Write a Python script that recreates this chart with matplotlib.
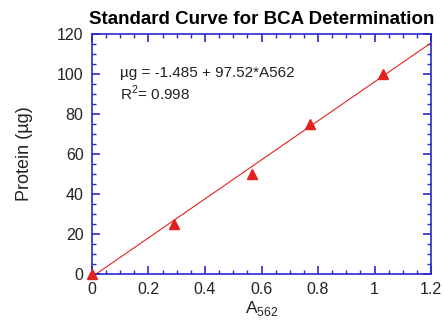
import numpy as np
import matplotlib
matplotlib.use("Agg")
import matplotlib.pyplot as plt
from matplotlib.ticker import MultipleLocator

plt.rcParams['font.family'] = ['Liberation Sans', 'DejaVu Sans']
plt.rcParams['mathtext.fontset'] = 'custom'
plt.rcParams['mathtext.rm'] = 'Liberation Sans'

# standard curve data
absorbance = [0.0, 0.29, 0.565, 0.77, 1.03]
protein = [0, 25, 50, 75, 100]
intercept = -1.485
slope = 97.52
r2 = 0.998
xticks = [0, 0.2, 0.4, 0.6, 0.8, 1.0, 1.2]
xticklabels = ['0', '0.2', '0.4', '0.6', '0.8', '1', '1.2']
yticks = [0, 20, 40, 60, 80, 100, 120]

blue = '#2b2bcc'
red = '#e3221f'

fig = plt.figure(figsize=(4.44, 3.2), dpi=100)
ax = fig.add_axes([0.207, 0.144, 0.764, 0.75])

xfit = np.array([0.0, 1.2])
ax.plot(xfit, intercept + slope * xfit, color=red, lw=0.8, zorder=2)
ax.plot(absorbance, protein, '^', color=red, ms=7, mec=red, zorder=3, clip_on=False)

ax.set_xlim(0, 1.2)
ax.set_ylim(0, 120)
ax.set_xticks(xticks)
ax.set_xticklabels(xticklabels)
ax.set_yticks(yticks)
ax.xaxis.set_minor_locator(MultipleLocator(0.05))
ax.yaxis.set_minor_locator(MultipleLocator(5))

for s in ax.spines.values():
    s.set_color(blue)
    s.set_linewidth(1.2)
ax.tick_params(which='both', direction='in', top=True, right=True, color=blue,
               labelsize=11.5, labelcolor='#222222')
ax.tick_params(which='major', length=6, width=1.2, pad=6)
ax.tick_params(which='minor', length=3, width=1.0)

ax.set_title('Standard Curve for BCA Determination', fontsize=13.5, fontweight='bold', pad=7)
ax.set_ylabel('Protein (µg)', fontsize=13, labelpad=17, color='#222222')
ax.set_xlabel(r'A$_{\mathrm{562}}$', fontsize=12.5, labelpad=1, color='#222222')

ax.text(0.1, 100.5, 'µg = -1.485 + 97.52*A562', fontsize=11, va='center', color='#222222')
ax.text(0.1, 90.5, r'R$^{\mathrm{2}}$= %.3f' % r2, fontsize=11, va='center', color='#222222')

fig.savefig('out.png', dpi=100)
